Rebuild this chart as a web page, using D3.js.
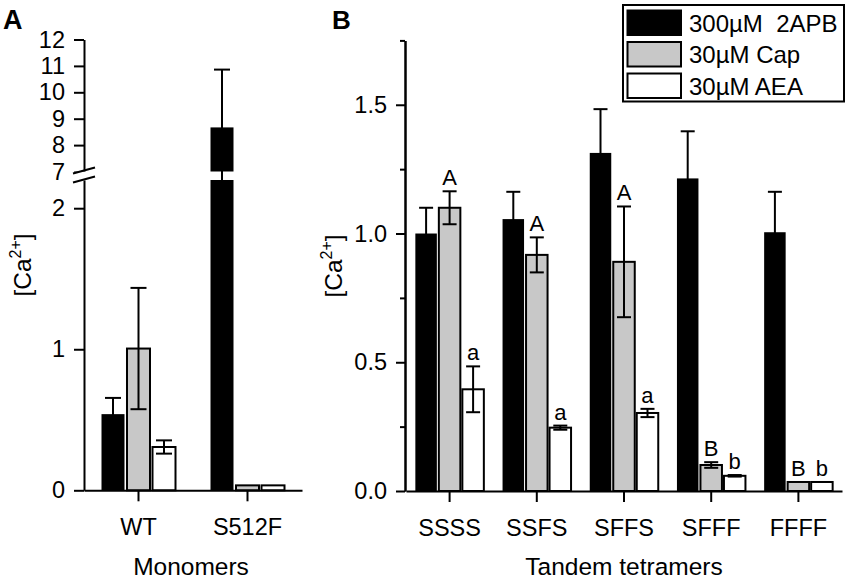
<!DOCTYPE html>
<html>
<head>
<meta charset="utf-8">
<script src="https://cdn.jsdelivr.net/npm/d3@7"></script>
<style>
  html, body { margin: 0; padding: 0; background: #fff; }
  svg { display: block; font-family: "Liberation Sans", Arial, Helvetica, sans-serif; }
</style>
</head>
<body>
<svg id="chart" width="850" height="580"></svg>
<script>
// ---------------- DATA ----------------
const seriesNames = ["300µM  2APB", "30µM Cap", "30µM AEA"];
const seriesColors = ["#000000", "#c8c8c8", "#ffffff"];

// Panel A: monomers
const monomerCategories = ["WT", "S512F"];
const monomer2APB = [0.54, 8.67];
const monomer2APBErr = [0.115, 2.19];
const monomerCap = [1.005, 0.035];
const monomerCapErr = [0.43, 0];
const monomerAEA = [0.307, 0.035];
const monomerAEAErr = [0.047, 0];
const monomerLowTicks = [0, 1, 2];
const monomerHighTicks = [7, 8, 9, 10, 11, 12];

// Panel B: tandem tetramers
const tetramerCategories = ["SSSS", "SSFS", "SFFS", "SFFF", "FFFF"];
const tetramer2APB = [1.0, 1.056, 1.313, 1.214, 1.005];
const tetramer2APBErr = [0.10, 0.106, 0.17, 0.183, 0.157];
const tetramerCap = [1.10, 0.917, 0.89, 0.101, 0.035];
const tetramerCapErr = [0.064, 0.068, 0.215, 0.011, 0];
const tetramerAEA = [0.395, 0.246, 0.303, 0.059, 0.035];
const tetramerAEAErr = [0.089, 0.008, 0.016, 0.003, 0];
const tetramerCapLetters = ["A", "A", "A", "B", "B"];
const tetramerAEALetters = ["a", "a", "a", "b", "b"];
const tetramerMajorTicks = [0, 0.5, 1.0, 1.5];
const tetramerMinorTicks = [0.25, 0.75, 1.25, 1.75];

// ---------------- DRAW ----------------
const svg = d3.select("#chart");
const AXW = 2;
const tickFont = 23.5;
const titleFont = 24.5;

function styleAxis(g) {
  g.select(".domain").attr("stroke", "#000").attr("stroke-width", AXW);
  g.selectAll(".tick line").attr("stroke", "#000").attr("stroke-width", AXW);
  g.selectAll(".tick text").attr("fill", "#000").attr("font-size", tickFont)
    .attr("font-family", "'Liberation Sans', Arial, sans-serif");
}

function drawErr(g, x, yTop, yBot, capW) {
  g.append("line").attr("x1", x).attr("x2", x).attr("y1", yTop).attr("y2", yBot)
    .attr("stroke", "#000").attr("stroke-width", 2);
  [yTop, yBot].forEach(yy => {
    g.append("line").attr("x1", x - capW / 2).attr("x2", x + capW / 2).attr("y1", yy).attr("y2", yy)
      .attr("stroke", "#000").attr("stroke-width", 2);
  });
}

function caTitle(x, y) {
  const t = svg.append("text").attr("transform", `translate(${x},${y}) rotate(-90)`)
    .attr("text-anchor", "middle").attr("font-size", titleFont).attr("fill", "#000");
  t.append("tspan").text("[Ca");
  t.append("tspan").attr("font-size", 16).attr("dy", -10).text("2+");
  t.append("tspan").attr("dy", 10).text("]");
}

// ===== Panel A =====
{
  const x0 = d3.scaleBand().domain(monomerCategories).range([84, 302]).padding(0);
  const x1 = d3.scaleBand().domain(seriesNames).range([-37, 37]).paddingInner(0.098).paddingOuter(0);
  const yLow = d3.scaleLinear().domain([0, 2.2]).range([490.3, 180]);
  const yHigh = d3.scaleLinear().domain([7, 12]).range([171.5, 39.5]);
  const yOf = v => v <= 2.2 ? yLow(v) : yHigh(v);

  const vals = [monomer2APB, monomerCap, monomerAEA];
  const errs = [monomer2APBErr, monomerCapErr, monomerAEAErr];
  const g = svg.append("g");

  monomerCategories.forEach((c, i) => {
    seriesNames.forEach((s, k) => {
      const v = vals[k][i];
      const bx = x0(c) + x0.bandwidth() / 2 + x1(s);
      const bw = x1.bandwidth();
      const stroke = k === 0 ? "none" : "#000";
      if (v <= 2.2) {
        g.append("rect").attr("x", bx).attr("width", bw).attr("y", yLow(v)).attr("height", yLow(0) - yLow(v))
          .attr("fill", seriesColors[k]).attr("stroke", stroke).attr("stroke-width", 2);
      } else {
        g.append("rect").attr("x", bx).attr("width", bw).attr("y", yLow(2.2)).attr("height", yLow(0) - yLow(2.2))
          .attr("fill", seriesColors[k]).attr("stroke", stroke).attr("stroke-width", 2);
        g.append("rect").attr("x", bx).attr("width", bw).attr("y", yHigh(v)).attr("height", yHigh(7) - yHigh(v))
          .attr("fill", seriesColors[k]).attr("stroke", stroke).attr("stroke-width", 2);
      }
      const e = errs[k][i];
      if (e > 0) drawErr(g, bx + bw / 2, yOf(v + e), yOf(v - e), 16);
    });
  });

  // axes
  const ax = svg.append("g").attr("transform", "translate(0,490.3)")
    .call(d3.axisBottom(x0).tickSize(11).tickSizeOuter(0).tickPadding(17));
  styleAxis(ax);
  const ayL = svg.append("g").attr("transform", "translate(84,0)")
    .call(d3.axisLeft(yLow).tickValues(monomerLowTicks).tickFormat(d3.format("d")).tickSize(10).tickSizeOuter(0).tickPadding(9));
  styleAxis(ayL);
  const ayH = svg.append("g").attr("transform", "translate(84,0)")
    .call(d3.axisLeft(yHigh).tickValues(monomerHighTicks).tickFormat(d3.format("d")).tickSize(10).tickSizeOuter(0).tickPadding(9));
  styleAxis(ayH);
  // break in the axis: cover the gap and draw the two slashes
  svg.append("rect").attr("x", 70).attr("y", 171.5).attr("width", 28).attr("height", 8.5).attr("fill", "#fff");
  [[173.5, 167.5], [182.5, 176.5]].forEach(([ya, yb]) => {
    svg.append("line").attr("x1", 73).attr("x2", 95).attr("y1", ya).attr("y2", yb)
      .attr("stroke", "#000").attr("stroke-width", 2);
  });

  caTitle(31, 265);
  svg.append("text").attr("x", 191).attr("y", 575).attr("text-anchor", "middle")
    .attr("font-size", titleFont).text("Monomers");
  svg.append("text").attr("x", 3).attr("y", 29).attr("font-size", 27).attr("font-weight", "bold").text("A");
}

// ===== Panel B =====
{
  const x0 = d3.scaleBand().domain(tetramerCategories).range([406, 842]).padding(0);
  const x1 = d3.scaleBand().domain(seriesNames).range([-34.25, 34.25]).paddingInner(0.085).paddingOuter(0);
  const y = d3.scaleLinear().domain([0, 1.75]).range([491, 40.4]);

  const vals = [tetramer2APB, tetramerCap, tetramerAEA];
  const errs = [tetramer2APBErr, tetramerCapErr, tetramerAEAErr];
  const letters = [null, tetramerCapLetters, tetramerAEALetters];
  const g = svg.append("g");

  tetramerCategories.forEach((c, i) => {
    seriesNames.forEach((s, k) => {
      const v = vals[k][i];
      const bx = x0(c) + x0.bandwidth() / 2 + x1(s);
      const bw = x1.bandwidth();
      g.append("rect").attr("x", bx).attr("width", bw).attr("y", y(v)).attr("height", y(0) - y(v))
        .attr("fill", seriesColors[k]).attr("stroke", k === 0 ? "none" : "#000").attr("stroke-width", 2);
      const e = errs[k][i];
      if (e > 0) drawErr(g, bx + bw / 2, y(v + e), y(v - e), 14);
      if (letters[k]) {
        g.append("text").attr("x", bx + bw / 2).attr("y", y(v + e) - 6).attr("text-anchor", "middle")
          .attr("font-size", 22).text(letters[k][i]);
      }
    });
  });

  const ax = svg.append("g").attr("transform", "translate(0,491)")
    .call(d3.axisBottom(x0).tickSize(11).tickSizeOuter(0).tickPadding(17));
  styleAxis(ax);
  const ay = svg.append("g").attr("transform", "translate(405,0)")
    .call(d3.axisLeft(y).tickValues(tetramerMajorTicks).tickFormat(d3.format(".1f")).tickSize(9).tickSizeOuter(0).tickPadding(9));
  styleAxis(ay);
  const ayMinor = svg.append("g").attr("transform", "translate(405,0)")
    .call(d3.axisLeft(y).tickValues(tetramerMinorTicks).tickFormat("").tickSize(5).tickSizeOuter(0));
  styleAxis(ayMinor);

  caTitle(342, 266);
  svg.append("text").attr("x", 624).attr("y", 575).attr("text-anchor", "middle")
    .attr("font-size", titleFont).text("Tandem tetramers");
  svg.append("text").attr("x", 332).attr("y", 29).attr("font-size", 26).attr("font-weight", "bold").text("B");

  // legend
  const lg = svg.append("g");
  lg.append("rect").attr("x", 623).attr("y", 5).attr("width", 221).attr("height", 96.5)
    .attr("fill", "#fff").attr("stroke", "#000").attr("stroke-width", 2);
  const rowY = d3.scalePoint().domain(seriesNames).range([9.5, 72.5]);
  seriesNames.forEach((s, k) => {
    lg.append("rect").attr("x", 627.5).attr("y", rowY(s) + 1).attr("width", 53.5).attr("height", 24.5)
      .attr("fill", seriesColors[k]).attr("stroke", "#000").attr("stroke-width", 2);
    lg.append("text").attr("x", 689).attr("y", rowY(s) + 22).attr("font-size", 24).text(s)
      .attr("xml:space", "preserve").style("white-space", "pre");
  });
}
</script>
</body>
</html>
